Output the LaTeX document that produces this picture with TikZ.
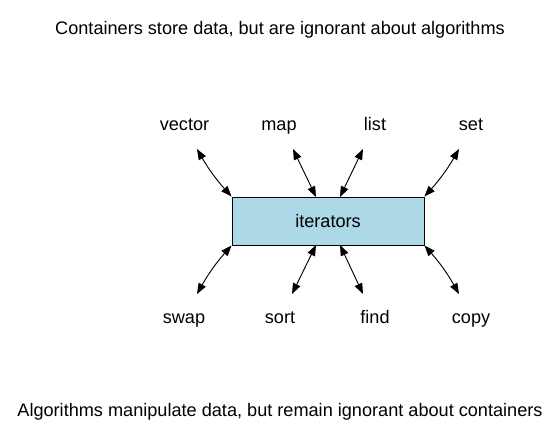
\documentclass[tikz,border=0pt]{standalone}
\usepackage{fontspec}
\setmainfont{Liberation Sans}
\usetikzlibrary{arrows.meta}
\begin{document}
\begin{tikzpicture}[x=0.75pt,y=-0.75pt,
  lbl/.style={font=\fontsize{13.6pt}{15pt}\selectfont, inner sep=0pt, anchor=base},
  conn/.style={{Triangle[length=8pt,width=6pt]}-{Triangle[length=8pt,width=6pt]}, line width=0.7pt},
  hub/.style={draw, fill={rgb,255:red,173;green,216;blue,230}, line width=0.7pt, minimum width=192*0.75pt, minimum height=48*0.75pt, inner sep=0pt, font=\fontsize{13.6pt}{15pt}\selectfont}]
\useasboundingbox (0,0) rectangle (560,443);
\node[lbl] (t1) at (280,34) {Containers store data, but are ignorant about algorithms};
\node[lbl] (t2) at (280,416) {Algorithms manipulate data, but remain ignorant about containers};
\node[hub] (it) at (328,221) {iterators};
\node[lbl] (vector) at (184.5,130) {vector};
\node[lbl] (map) at (279,130) {map};
\node[lbl] (list) at (375,130) {list};
\node[lbl] (set) at (471,130) {set};
\node[lbl] (swap) at (184,323) {swap};
\node[lbl] (sort) at (280,323) {sort};
\node[lbl] (find) at (375,323) {find};
\node[lbl] (copy) at (471,323) {copy};
\coordinate (vt) at (197,149);
\coordinate (mt) at (293,149);
\coordinate (lt) at (363,149);
\coordinate (st) at (459,149);
\coordinate (swt) at (197,294);
\coordinate (sot) at (292,294);
\coordinate (ft) at (363,294);
\coordinate (ct) at (459,294);
\coordinate (i1) at (316,197);
\coordinate (i2) at (340,197);
\coordinate (i3) at (316,245);
\coordinate (i4) at (340,245);
\draw[conn] (vt) to[bend right=6] (it.north west);
\draw[conn] (mt) -- (i1);
\draw[conn] (lt) -- (i2);
\draw[conn] (st) to[bend left=6] (it.north east);
\draw[conn] (it.south west) to[bend right=6] (swt);
\draw[conn] (i3) -- (sot);
\draw[conn] (i4) -- (ft);
\draw[conn] (it.south east) to[bend left=6] (ct);
\end{tikzpicture}
\end{document}
